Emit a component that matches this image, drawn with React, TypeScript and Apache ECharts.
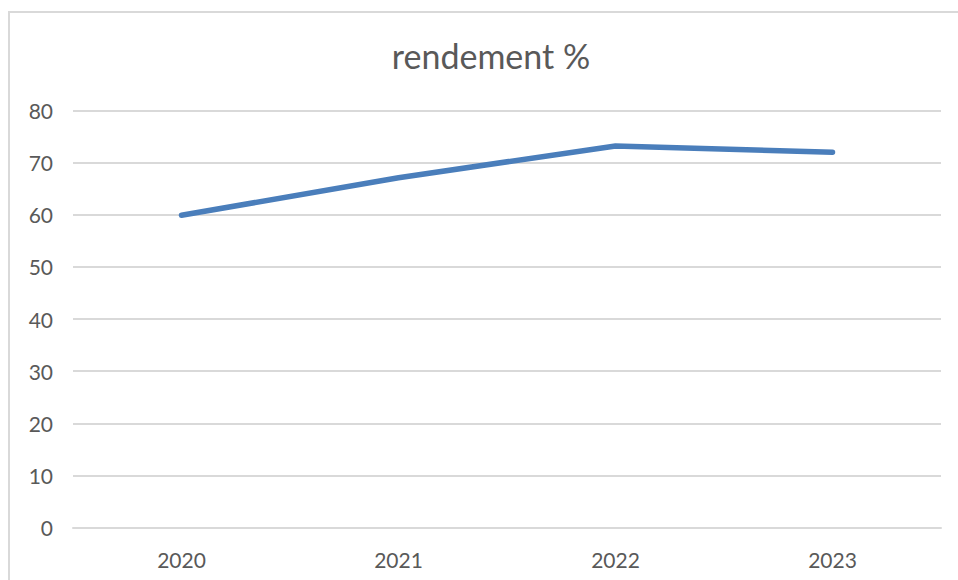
import React, { useEffect, useRef } from "react";
import * as echarts from "echarts";

const categories = ["2020", "2021", "2022", "2023"];
const rendement = [59.9, 67.1, 73.2, 72.0];
const titleText = "rendement %";

export default function App() {
  const ref = useRef<HTMLDivElement>(null);
  useEffect(() => {
    if (!ref.current) return;
    const chart = echarts.init(ref.current, undefined, { renderer: "svg" });
    chart.setOption({
      animation: false,
      backgroundColor: "#ffffff",
      title: {
        text: titleText,
        left: 486,
        top: 33,
        textAlign: "center",
        textStyle: { fontFamily: "Lato", fontWeight: "normal", fontSize: 34, color: "#595959" },
      },
      graphic: [
        {
          type: "rect",
          shape: { x: 9, y: 12, width: 1000, height: 1000 },
          style: { fill: "none", stroke: "#d9d9d9", lineWidth: 2 },
          silent: true,
        },
      ],
      grid: { left: 73, right: 17, top: 110.5, bottom: 52.5, containLabel: false },
      xAxis: {
        type: "category",
        data: categories,
        boundaryGap: true,
        axisLine: { show: true, lineStyle: { color: "#d9d9d9", width: 2 } },
        axisTick: { show: false },
        axisLabel: { fontFamily: "Lato", fontSize: 21, color: "#595959", margin: 21 },
      },
      yAxis: {
        type: "value",
        min: 0,
        max: 80,
        interval: 10,
        axisLine: { show: false },
        axisTick: { show: false },
        splitLine: { show: true, lineStyle: { color: "#d9d9d9", width: 2 } },
        axisLabel: { fontFamily: "Lato", fontSize: 21, color: "#595959", margin: 20 },
      },
      series: [
        {
          type: "line",
          data: rendement,
          showSymbol: false,
          symbol: "none",
          lineStyle: { color: "#4A7EBB", width: 5.5, cap: "round", join: "round" },
        },
      ],
    });
    return () => chart.dispose();
  }, []);
  return <div ref={ref} style={{ position: "fixed", left: 0, top: 0, width: 958, height: 580 }} />;
}
